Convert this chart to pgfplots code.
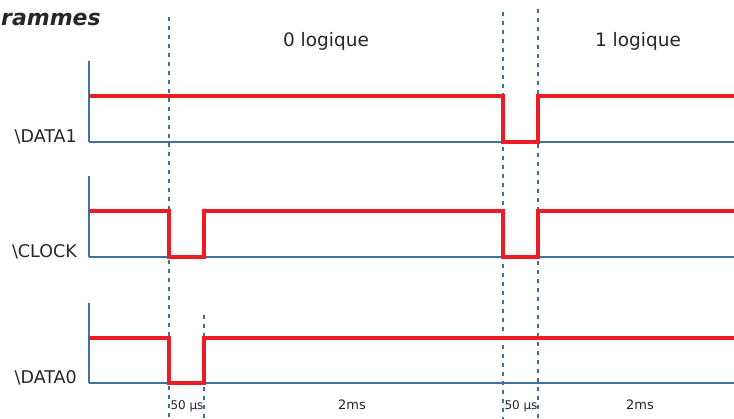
\documentclass[border=0pt]{standalone}
\usepackage{fontspec}
\setmainfont{DejaVu Sans}
\usepackage{pgfplots}
\pgfplotsset{compat=1.18}
\definecolor{axblue}{RGB}{65,113,160}
\definecolor{dashblue}{RGB}{60,110,160}
\definecolor{sigred}{RGB}{237,28,36}
\definecolor{txt}{RGB}{38,38,38}
\pgfplotsset{panel/.style={scale only axis, width=645bp, xmin=0, xmax=645, ymin=0,
  axis x line=bottom, axis y line=left,
  axis line style={-, draw=axblue, line width=1.5bp},
  xtick=\empty, ytick=\empty, clip=false, anchor=south west}}
\begin{document}
\begin{tikzpicture}
\useasboundingbox (0,0) rectangle (734bp,419bp);
% overlay axis in pixel coordinates (y downwards)
\begin{axis}[at={(0,0)}, anchor=south west, scale only axis, width=734bp, height=419bp,
  xmin=0, xmax=734, ymin=0, ymax=419, y dir=reverse, hide axis, clip=false]
\addplot[dashblue, line width=1.2bp, dash pattern=on 4bp off 5bp] coordinates {(169,17) (169,419)};
\addplot[dashblue, line width=1.2bp, dash pattern=on 4bp off 5bp] coordinates {(204,315) (204,419)};
\addplot[dashblue, line width=1.2bp, dash pattern=on 4bp off 5bp] coordinates {(503,12) (503,419)};
\addplot[dashblue, line width=1.2bp, dash pattern=on 4bp off 5bp] coordinates {(538,9) (538,419)};
\node[anchor=base west, text=txt, font=\fontsize{22bp}{24bp}\selectfont\bfseries\itshape, inner sep=0pt] at (axis cs:1,26) {rammes};
\node[anchor=base, text=txt, font=\fontsize{18.5bp}{21bp}\selectfont, inner sep=0pt] at (axis cs:326,47) {0 logique};
\node[anchor=base, text=txt, font=\fontsize{18.5bp}{21bp}\selectfont, inner sep=0pt] at (axis cs:638,47) {1 logique};
\node[anchor=base east, text=txt, font=\fontsize{17.5bp}{20bp}\selectfont, inner sep=0pt] at (axis cs:77,142) {\textbackslash DATA1};
\node[anchor=base east, text=txt, font=\fontsize{17.5bp}{20bp}\selectfont, inner sep=0pt] at (axis cs:77,257) {\textbackslash CLOCK};
\node[anchor=base east, text=txt, font=\fontsize{17.5bp}{20bp}\selectfont, inner sep=0pt] at (axis cs:77,383) {\textbackslash DATA0};
\node[anchor=base, text=txt, font=\fontsize{12bp}{14bp}\selectfont, inner sep=0pt] at (axis cs:187,409) {50 µs};
\node[anchor=base, text=txt, font=\fontsize{13bp}{15bp}\selectfont, inner sep=0pt] at (axis cs:352,409) {2ms};
\node[anchor=base, text=txt, font=\fontsize{12bp}{14bp}\selectfont, inner sep=0pt] at (axis cs:521,409) {50 µs};
\node[anchor=base, text=txt, font=\fontsize{13bp}{15bp}\selectfont, inner sep=0pt] at (axis cs:640,409) {2ms};
\end{axis}
% DATA1
\begin{axis}[panel, height=81bp, ymax=81, at={(89bp,277bp)}]
\addplot[sigred, line width=3.2bp] coordinates {(0,46) (414,46) (414,0) (449,0) (449,46) (645,46)};
\end{axis}
% CLOCK
\begin{axis}[panel, height=81bp, ymax=81, at={(89bp,162bp)}]
\addplot[sigred, line width=3.2bp] coordinates {(0,46) (80,46) (80,0) (115,0) (115,46) (414,46) (414,0) (449,0) (449,46) (645,46)};
\end{axis}
% DATA0
\begin{axis}[panel, height=80bp, ymax=80, at={(89bp,36bp)}]
\addplot[sigred, line width=3.2bp] coordinates {(0,45) (80,45) (80,0) (115,0) (115,45) (645,45)};
\end{axis}
\end{tikzpicture}
\end{document}
